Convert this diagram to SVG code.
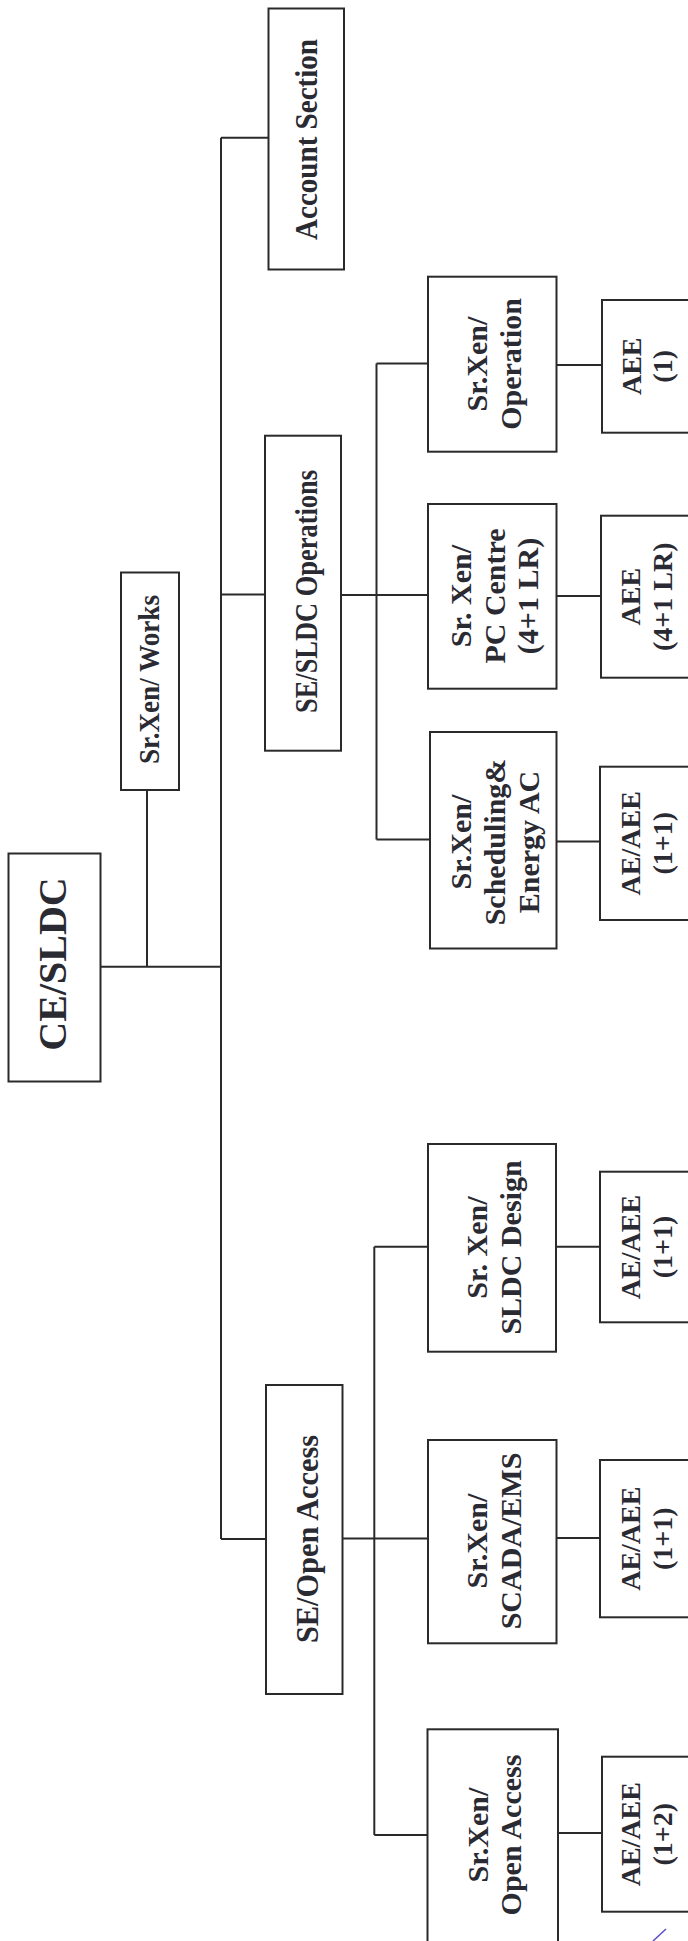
<svg xmlns="http://www.w3.org/2000/svg" width="688" height="1941" viewBox="0 0 688 1941">
<style>
.box{fill:#fff;stroke:#2a2a2a;stroke-width:2}
.ln{fill:none;stroke:#2a2a2a;stroke-width:2}
text{font-family:"Liberation Serif","Times New Roman",serif;font-weight:bold;fill:#2a2a33;text-anchor:middle}
.f40{font-size:40px}
.f32{font-size:32px}
.f30{font-size:30px}
.f28{font-size:28px}
</style>
<rect x="0" y="0" width="688" height="1941" fill="#fff"/>
<g id="connectors">
<path class="ln" d="M221,137.7V1539"/>
<path class="ln" d="M221,137.7H268.5"/>
<path class="ln" d="M221,594.5H265"/>
<path class="ln" d="M221,1539H266"/>
<path class="ln" d="M100.7,966.7H221"/>
<path class="ln" d="M147,790V966.7"/>
<path class="ln" d="M341,595H428"/>
<path class="ln" d="M376.5,363.5V839.5"/>
<path class="ln" d="M376.5,363.5H428"/>
<path class="ln" d="M376.5,839.5H430"/>
<path class="ln" d="M556.5,365H602"/>
<path class="ln" d="M556.5,596H601"/>
<path class="ln" d="M556.5,841.5H600"/>
<path class="ln" d="M342.5,1538.5H428"/>
<path class="ln" d="M374.3,1246.7V1835"/>
<path class="ln" d="M374.3,1246.7H428"/>
<path class="ln" d="M374.3,1835H427.5"/>
<path class="ln" d="M556,1246.7H600"/>
<path class="ln" d="M556.5,1538H600"/>
<path class="ln" d="M558,1833H602"/>
</g>
<g id="n-ce">
<rect class="box" x="8.5" y="853.5" width="92" height="228"/>
<text class="f40" transform="translate(0,964) rotate(-90)"><tspan x="0" y="66">CE/SLDC</tspan></text>
</g>
<g id="n-works">
<rect class="box" x="121" y="572.5" width="58" height="217.5"/>
<text class="f30" transform="translate(0,679.5) rotate(-90)"><tspan x="0" y="158.5" textLength="169" lengthAdjust="spacingAndGlyphs">Sr.Xen/ Works</tspan></text>
</g>
<g id="n-account">
<rect class="box" x="268.5" y="8.5" width="75.5" height="261"/>
<text class="f32" transform="translate(0,139.5) rotate(-90)"><tspan x="0" y="317" textLength="201" lengthAdjust="spacingAndGlyphs">Account Section</tspan></text>
</g>
<g id="n-se-sldc">
<rect class="box" x="265" y="435.7" width="76" height="315"/>
<text class="f32" transform="translate(0,591.5) rotate(-90)"><tspan x="0" y="316.5" textLength="243" lengthAdjust="spacingAndGlyphs">SE/SLDC Operations</tspan></text>
</g>
<g id="n-se-oa">
<rect class="box" x="266" y="1385" width="76.5" height="309"/>
<text class="f32" transform="translate(0,1539) rotate(-90)"><tspan x="0" y="317.5" textLength="208" lengthAdjust="spacingAndGlyphs">SE/Open Access</tspan></text>
</g>
<g id="n-operation">
<rect class="box" x="428" y="276.7" width="128.5" height="175"/>
<text class="f30" transform="translate(0,364) rotate(-90)"><tspan x="0" y="487">Sr.Xen/</tspan><tspan x="0" y="521">Operation</tspan></text>
</g>
<g id="n-pc">
<rect class="box" x="428" y="504" width="128.5" height="184.7"/>
<text class="f30" transform="translate(0,596) rotate(-90)"><tspan x="0" y="471">Sr. Xen/</tspan><tspan x="0" y="505">PC Centre</tspan><tspan x="0" y="538">(4+1 LR)</tspan></text>
</g>
<g id="n-sched">
<rect class="box" x="430" y="732" width="126.5" height="216.5"/>
<text class="f30" transform="translate(0,842) rotate(-90)"><tspan x="0" y="471">Sr.Xen/</tspan><tspan x="0" y="505">Scheduling&amp;</tspan><tspan x="0" y="539">Energy AC</tspan></text>
</g>
<g id="n-design">
<rect class="box" x="428" y="1144" width="128" height="207.7"/>
<text class="f30" transform="translate(0,1247.5) rotate(-90)"><tspan x="0" y="487">Sr. Xen/</tspan><tspan x="0" y="521">SLDC Design</tspan></text>
</g>
<g id="n-scada">
<rect class="box" x="428" y="1440" width="128.5" height="203.3"/>
<text class="f30" transform="translate(0,1541) rotate(-90)"><tspan x="0" y="487">Sr.Xen/</tspan><tspan x="0" y="521">SCADA/EMS</tspan></text>
</g>
<g id="n-openaccess">
<rect class="box" x="427.5" y="1729.3" width="130.5" height="240"/>
<text class="f30" transform="translate(0,1835) rotate(-90)"><tspan x="0" y="488">Sr.Xen/</tspan><tspan x="0" y="521">Open Access</tspan></text>
</g>
<g id="n-aee1">
<rect class="box" x="602" y="300" width="110" height="132.7"/>
<text class="f28" transform="translate(0,366.3) rotate(-90)"><tspan x="0" y="641">AEE</tspan><tspan x="0" y="672">(1)</tspan></text>
</g>
<g id="n-aee41">
<rect class="box" x="601" y="515.7" width="110" height="162"/>
<text class="f28" transform="translate(0,596.7) rotate(-90)"><tspan x="0" y="640">AEE</tspan><tspan x="0" y="672">(4+1 LR)</tspan></text>
</g>
<g id="n-ae-sched">
<rect class="box" x="600" y="766.7" width="110" height="153.3"/>
<text class="f28" transform="translate(0,843.3) rotate(-90)"><tspan x="0" y="640">AE/AEE</tspan><tspan x="0" y="672">(1+1)</tspan></text>
</g>
<g id="n-ae-design">
<rect class="box" x="600" y="1171.7" width="110" height="150.6"/>
<text class="f28" transform="translate(0,1247) rotate(-90)"><tspan x="0" y="640">AE/AEE</tspan><tspan x="0" y="672">(1+1)</tspan></text>
</g>
<g id="n-ae-scada">
<rect class="box" x="600" y="1460" width="110" height="157.3"/>
<text class="f28" transform="translate(0,1538.7) rotate(-90)"><tspan x="0" y="640">AE/AEE</tspan><tspan x="0" y="672">(1+1)</tspan></text>
</g>
<g id="n-ae-oa">
<rect class="box" x="602" y="1756.7" width="110" height="155"/>
<text class="f28" transform="translate(0,1834.2) rotate(-90)"><tspan x="0" y="640">AE/AEE</tspan><tspan x="0" y="672">(1+2)</tspan></text>
</g>
<path d="M653,1941L666,1929" fill="none" stroke="#5a4fc8" stroke-width="1.5"/>
</svg>
